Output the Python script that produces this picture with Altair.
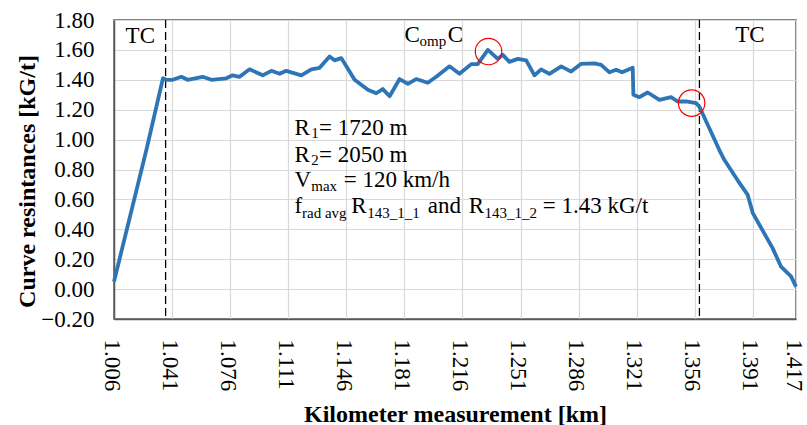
import altair as alt
import pandas as pd

# ---- data ----
km = [1.006, 1.0255, 1.0355, 1.0376, 1.0414, 1.0466, 1.0504, 1.0594, 1.0647, 1.0737,
      1.0775, 1.0817, 1.0877, 1.0956, 1.1008, 1.1058, 1.1098, 1.1189, 1.1249, 1.1299,
      1.1359, 1.1389, 1.1430, 1.1510, 1.1590, 1.1640, 1.1680, 1.1721, 1.1781, 1.1831,
      1.1881, 1.1951, 1.2002, 1.2082, 1.2142, 1.2213, 1.2252, 1.2313, 1.2373, 1.2403,
      1.2443, 1.2493, 1.2544, 1.2594, 1.2634, 1.2684, 1.2755, 1.2815, 1.2875, 1.2955,
      1.2996, 1.3046, 1.3086, 1.3122, 1.3186, 1.3190, 1.3226, 1.3276, 1.3347, 1.3417,
      1.3457, 1.3508, 1.3568, 1.3588, 1.3708, 1.3738, 1.3829, 1.3879, 1.3909, 1.4029,
      1.4080, 1.4140, 1.417]
resistance = [0.05, 0.93, 1.41, 1.40, 1.40, 1.42, 1.40, 1.42, 1.40, 1.41,
              1.43, 1.42, 1.47, 1.43, 1.46, 1.44, 1.46, 1.43, 1.47, 1.48,
              1.556, 1.53, 1.545, 1.40, 1.333, 1.31, 1.338, 1.29, 1.405, 1.373,
              1.405, 1.38, 1.42, 1.49, 1.44, 1.505, 1.505, 1.60, 1.54, 1.567,
              1.52, 1.54, 1.53, 1.43, 1.47, 1.44, 1.49, 1.455, 1.507, 1.51,
              1.50, 1.45, 1.467, 1.45, 1.48, 1.30, 1.284, 1.315, 1.266, 1.284,
              1.255, 1.255, 1.244, 1.22, 0.93, 0.865, 0.71, 0.63, 0.51, 0.274,
              0.15, 0.085, 0.017]

x_ticks = [1.006, 1.041, 1.076, 1.111, 1.146, 1.181, 1.216, 1.251, 1.286,
           1.321, 1.356, 1.391, 1.417]
y_ticks = [-0.2, 0.0, 0.2, 0.4, 0.6, 0.8, 1.0, 1.2, 1.4, 1.6, 1.8]

boundary_km = [1.0371, 1.3588]
highlight_km = [1.2317, 1.3541]
highlight_val = [1.589, 1.244]

ann_text = ["TC", "C", "omp", "C", "TC",
            "R", "1", "= 1720 m",
            "R", "2", "= 2050 m",
            "V", "max", "= 120 km/h",
            "f", "rad avg", "R", "143_1_1", "and", "R", "143_1_2", "= 1.43 kG/t"]
ann_km = [1.0130, 1.1811, 1.1901, 1.2072, 1.3804,
          1.1148, 1.1248, 1.1295,
          1.1148, 1.1248, 1.1295,
          1.1148, 1.1249, 1.1444,
          1.1148, 1.1193, 1.1490, 1.1586, 1.1951, 1.2198, 1.2293, 1.2644]
ann_val = [1.645, 1.656, 1.623, 1.656, 1.654,
           1.032, 1.010, 1.032,
           0.853, 0.831, 0.853,
           0.682, 0.653, 0.682,
           0.508, 0.475, 0.508, 0.475, 0.508, 0.508, 0.475, 0.508]
ann_size = [23, 23, 15, 23, 23,
            23, 15, 23,
            23, 15, 23,
            23, 15, 23,
            23, 15, 23, 15, 23, 23, 15, 23]

FONT = "Liberation Serif"

curve = pd.DataFrame({"km": km, "r": resistance})
bounds = pd.DataFrame({"km": boundary_km})
hl = pd.DataFrame({"km": highlight_km, "r": highlight_val})
ann = pd.DataFrame({"km": ann_km, "r": ann_val, "t": ann_text, "s": ann_size})

xscale = alt.Scale(domain=[1.006, 1.417], nice=False, zero=False)
yscale = alt.Scale(domain=[-0.2, 1.8], nice=False, zero=False)

xaxis = alt.Axis(values=x_ticks, format=".3f", labelAngle=90, labelAlign="left",
                 labelBaseline="middle", labelPadding=20, labelOffset=-3, ticks=False,
                 title="Kilometer measurement [km]", titleX=341, titleY=102,
                 titleAlign="center", titleBaseline="alphabetic", labelOverlap=False)
yaxis = alt.Axis(values=y_ticks, format=".2f", tickCount=11,
                 labelPadding=20, ticks=False, labelOverlap=False,
                 labelSeparation=0,
                 title="Curve resintances [kG/t]", titleX=-80, titleY=161,
                 titleAngle=-90, titleAlign="center", titleBaseline="alphabetic")

line = alt.Chart(curve).mark_line(color="#2E75B6", strokeWidth=3.8,
                                  strokeJoin="round").encode(
    x=alt.X("km:Q", scale=xscale, axis=xaxis),
    y=alt.Y("r:Q", scale=yscale, axis=yaxis),
)

rules = alt.Chart(bounds).mark_rule(color="black", strokeWidth=1.3,
                                    strokeDash=[8, 4]).encode(
    x=alt.X("km:Q", scale=xscale, axis=xaxis)
)

circles = alt.Chart(hl).mark_point(shape="circle", size=700, filled=False,
                                   color="#FF0000", strokeWidth=1.2,
                                   opacity=1).encode(
    x=alt.X("km:Q", scale=xscale, axis=xaxis),
    y=alt.Y("r:Q", scale=yscale, axis=yaxis),
)

texts = alt.Chart(ann).mark_text(align="left", baseline="alphabetic", font=FONT,
                                 color="black").encode(
    x=alt.X("km:Q", scale=xscale, axis=xaxis),
    y=alt.Y("r:Q", scale=yscale, axis=yaxis),
    text="t:N",
    size=alt.Size("s:Q", scale=None, legend=None),
)

chart = alt.layer(rules, line, circles, texts).properties(
    width=682, height=299,
    autosize=alt.AutoSizeParams(type="none"),
    padding={"left": 114, "top": 20, "right": 11, "bottom": 106},
).configure_view(
    stroke="#595959", strokeWidth=1.5
).configure_axis(
    labelFont=FONT, titleFont=FONT, labelFontSize=23, titleFontSize=24,
    labelColor="black", titleColor="black", titleFontWeight="bold",
    gridColor="#D9D9D9", gridWidth=1.2, domainColor="#595959", domainWidth=1.5,
    labelOverlap=False,
)

chart.save("out.html", embed_options={"renderer": "svg", "actions": False})
